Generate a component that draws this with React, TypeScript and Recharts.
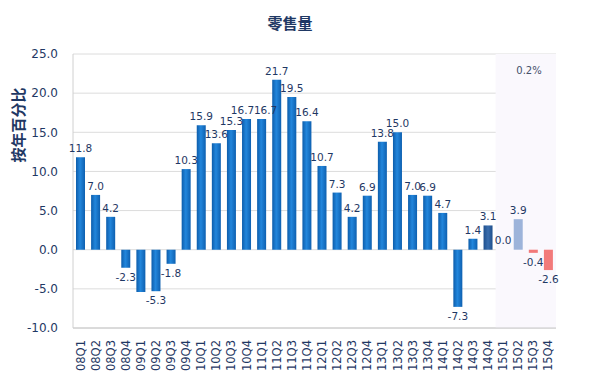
import { BarChart, Bar, XAxis, YAxis, CartesianGrid, Cell, LabelList, ReferenceArea } from "recharts";

const quarters = [
    "08Q1", "08Q2", "08Q3", "08Q4", "09Q1", "09Q2", "09Q3", "09Q4",
    "10Q1", "10Q2", "10Q3", "10Q4", "11Q1", "11Q2", "11Q3", "11Q4",
    "12Q1", "12Q2", "12Q3", "12Q4", "13Q1", "13Q2", "13Q3", "13Q4",
    "14Q1", "14Q2", "14Q3", "14Q4", "15Q1", "15Q2", "15Q3", "15Q4",
];
const retailVolume = [
    11.8, 7.0, 4.2, -2.3, -5.4, -5.3, -1.8, 10.3,
    15.9, 13.6, 15.3, 16.7, 16.7, 21.7, 19.5, 16.4,
    10.7, 7.3, 4.2, 6.9, 13.8, 15.0, 7.0, 6.9,
    4.7, -7.3, 1.4, 3.1, 0.0, 3.9, -0.4, -2.6,
];
// 09Q1 has no label in the original
const hiddenLabels = ["09Q1"];
const yTicks = [-10, -5, 0, 5, 10, 15, 20, 25];
const forecastNote = "0.2%";

const navy = "#1f3864";
const font = "'DejaVu Sans', Verdana, sans-serif";

const barColor = (q: string, v: number) => {
    if (v === 0) return "none";
    if (q === "14Q4") return "url(#darkBlue)";
    if (q === "15Q2") return "#9db4da";
    if (q === "15Q3" || q === "15Q4") return "#f27a7a";
    return "url(#mainBlue)";
};

// small nudges so the two 16.7 labels don't collide
const labelShift = (q: string) => (q === "10Q4" ? -4 : q === "11Q1" ? 4 : 0);

const chartData = quarters.map((q, i) => ({ quarter: q, value: retailVolume[i] }));

function QuarterTick(props: any) {
    const { x, y, payload } = props;
    return (
        <text x={x + 4} y={y + 4} transform={`rotate(-90, ${x + 4}, ${y + 4})`} textAnchor="end"
            fontSize={11.5} fill={navy} fontFamily={font}>
            {payload.value}
        </text>
    );
}

function ValueLabel(props: any) {
    const { x, y, width, height, value, index } = props;
    const q = quarters[index];
    if (hiddenLabels.includes(q)) return null;
    const cx = x + width / 2 + labelShift(q);
    const top = Math.min(y, y + height);
    const bottom = Math.max(y, y + height);
    const ty = value < 0 ? bottom + 13 : top - 5;
    return (
        <text x={cx} y={ty} textAnchor="middle" fontSize={10.5} fill={navy} fontFamily={font}>
            {Number(value).toFixed(1)}
        </text>
    );
}

export default function App() {
    return (
        <div style={{ position: "absolute", left: 0, top: 0, width: 609, height: 385, background: "#fff" }}>
            <div style={{ position: "absolute", left: 0, width: 580, top: 12, textAlign: "center", fontFamily: "'Noto Sans CJK SC', sans-serif", fontWeight: 700, fontSize: 15, color: navy }}>
                零售量
            </div>
            <BarChart width={609} height={385} data={chartData} margin={{ top: 54, right: 53, left: 0, bottom: 0 }} barSize={9}>
                <defs>
                    <linearGradient id="mainBlue" x1="0" y1="0" x2="1" y2="0">
                        <stop offset="0%" stopColor="#0d5dab" />
                        <stop offset="45%" stopColor="#2286dc" />
                        <stop offset="100%" stopColor="#0e60b0" />
                    </linearGradient>
                    <linearGradient id="darkBlue" x1="0" y1="0" x2="1" y2="0">
                        <stop offset="0%" stopColor="#1f4f8c" />
                        <stop offset="50%" stopColor="#3a6eae" />
                        <stop offset="100%" stopColor="#1f4f8c" />
                    </linearGradient>
                </defs>
                <CartesianGrid vertical={false} stroke="#dcdcdc" />
                <ReferenceArea x1="15Q1" x2="15Q4" y1={-10} y2={25} fill="#faf8fd" fillOpacity={1} stroke="none" />
                <XAxis dataKey="quarter" interval={0} height={57} tick={<QuarterTick />} tickLine={false}
                    axisLine={{ stroke: "#c8c8c8" }} />
                <YAxis domain={[-10, 25]} ticks={yTicks} width={73} tickSize={0} tickMargin={15}
                    tickFormatter={(v: number) => v.toFixed(1)}
                    tick={{ fontSize: 12, fill: navy, fontFamily: font }}
                    axisLine={{ stroke: "#d0d0d0" }}
                    label={{
                        content: () => (
                            <text x={24} y={125} transform="rotate(-90, 24, 125)" textAnchor="middle"
                                fontSize={15} fontWeight={700} fill={navy} fontFamily="'Noto Sans CJK SC', sans-serif">
                                按年百分比
                            </text>
                        ),
                    }} />
                <Bar dataKey="value" isAnimationActive={false} minPointSize={1}>
                    {chartData.map((d) => (
                        <Cell key={d.quarter} fill={barColor(d.quarter, d.value)} />
                    ))}
                    <LabelList dataKey="value" content={<ValueLabel />} />
                </Bar>
            </BarChart>
            <div style={{ position: "absolute", left: 509, width: 40, top: 65, textAlign: "center", fontFamily: font, fontSize: 10, color: "#44506a" }}>
                {forecastNote}
            </div>
        </div>
    );
}
